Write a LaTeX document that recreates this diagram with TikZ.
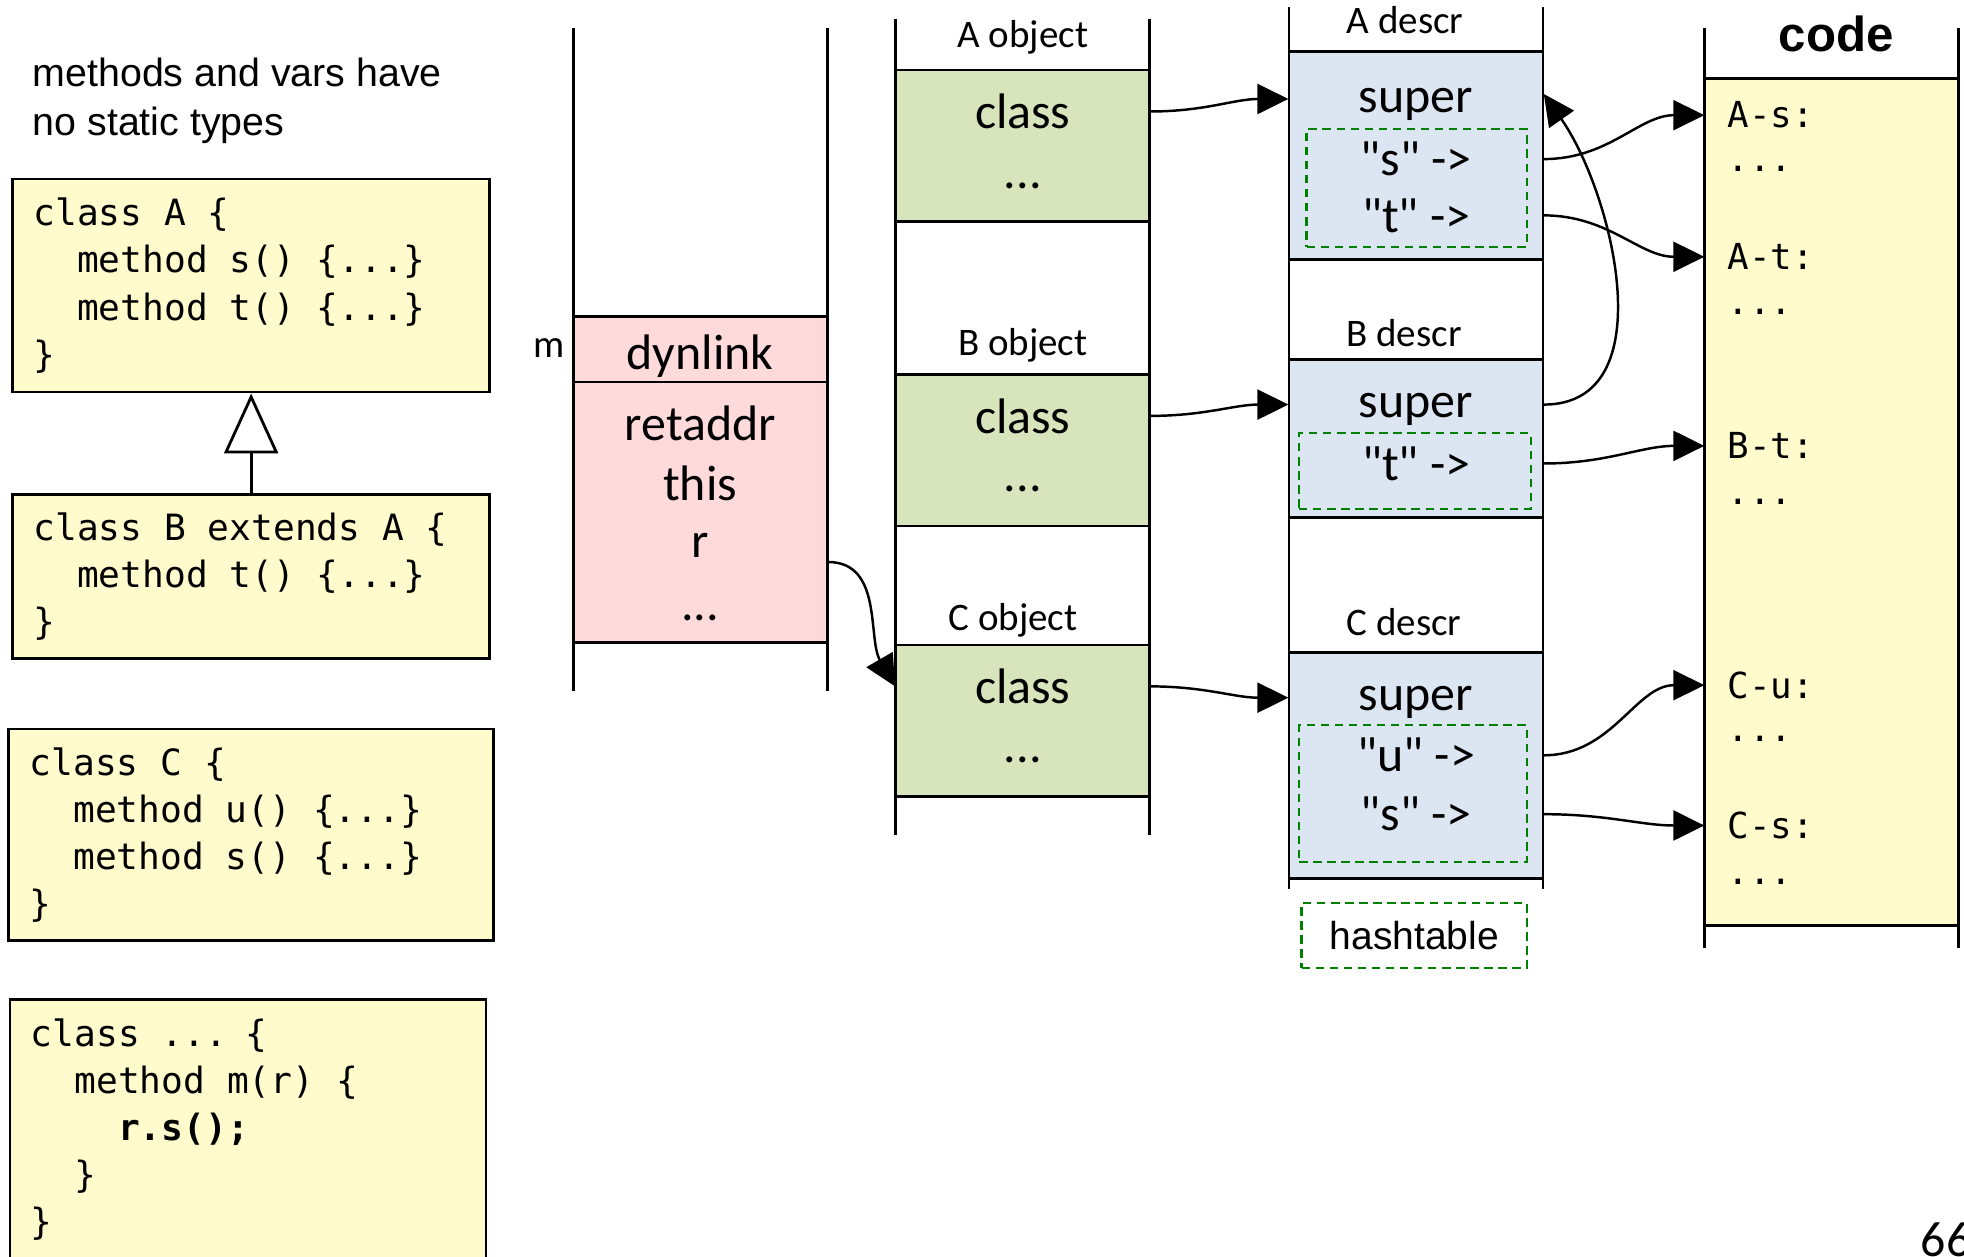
\documentclass[tikz,border=0pt]{standalone}
\usepackage{fontspec}
\setmainfont{Carlito}[Ligatures=TeXOff]
\setmonofont{DejaVu Sans Mono}
\newfontfamily\arialfont{Liberation Sans}
\usetikzlibrary{arrows.meta}
\definecolor{codeyellow}{RGB}{255,251,204}
\definecolor{objgreen}{RGB}{216,228,188}
\definecolor{descblue}{RGB}{220,230,242}
\definecolor{stackpink}{RGB}{255,218,218}
\definecolor{hashgreen}{RGB}{0,128,0}
\newcommand{\ind}{\hphantom{xx}}
\newcommand{\monosp}{\spaceskip=0.602em\relax}
\begin{document}
\begin{tikzpicture}[every node/.style={inner sep=0pt},
  box/.style={draw,line width=0.8pt,minimum width=2.54cm},
  fld/.style={minimum width=2.54cm,font=\fontsize{14.2}{17}\selectfont},
  lbl/.style={font=\fontsize{11.1}{13}\selectfont},
  hash/.style={draw=hashgreen,dash pattern=on 2.4pt off 1.6pt,line width=0.6pt},
  src/.style={draw,line width=0.8pt,fill=codeyellow,align=left,inner xsep=0.21cm,font=\ttfamily\fontsize{10.3}{13.4}\selectfont},
  cl/.style={anchor=west,inner xsep=0.225cm,font=\ttfamily\fontsize{10.2}{13.4}\selectfont},
  ptr/.style={-{Triangle[length=0.31cm,width=0.3cm]},line width=0.7pt},
  col/.style={line width=0.8pt}]
\useasboundingbox (0,0) rectangle (19.64,12.56);
\node[anchor=west,align=left,font=\arialfont\fontsize{11.2}{13.9}\selectfont] (title) at (0.32,11.55) {methods and vars have\\no static types};
\node[src,text width=4.353cm,minimum height=2.13cm] (clsA) at (2.5115,9.704) {\monosp class A \{\\\ind method s() \{...\}\\\ind method t() \{...\}\\\}};
\node[src,text width=4.353cm,minimum height=1.641cm] (clsB) at (2.5115,6.7915) {\monosp class B extends A \{\\\ind method t() \{...\}\\\}};
\node[src,text width=4.427cm,minimum height=2.117cm] (clsC) at (2.5115,4.2115) {\monosp class C \{\\\ind method u() \{...\}\\\ind method s() \{...\}\\\}};
\node[src,text width=4.34cm,minimum height=2.604cm] (clsM) at (2.48,1.262) {\monosp class ... \{\\\ind method m(r) \{\\\ind\ind\textbf{r.s();}\\\ind \}\\\}};
\draw[line width=0.8pt,-{Triangle[open,length=0.6cm,width=0.54cm]}] (clsB.north) -- (clsA.south);
\draw[col] (5.732,12.284) -- (5.732,5.646) (8.272,12.284) -- (8.272,5.646);
\draw[col] (8.9575,12.372) -- (8.9575,4.205) (11.4975,12.372) -- (11.4975,4.205);
\draw[col] (12.8905,12.485) -- (12.8905,3.667) (15.4305,12.485) -- (15.4305,3.667);
\draw[col] (17.043,12.284) -- (17.043,3.078) (19.583,12.284) -- (19.583,3.078);
\node[box,fill=stackpink,minimum height=0.651cm] (dyn) at (7.002,9.0655) {};
\node[box,fill=stackpink,minimum height=2.606cm] (frm) at (7.002,7.437) {};
\node[lbl] (mlbl) at (5.486,9.078) {m};
\node[fld] (dynl) at (7.002,9.0) {dynlink};
\node[fld] (ret) at (7.002,8.326) {retaddr};
\node[fld] (this) at (7.002,7.725) {this};
\node[fld] (r) at (7.002,7.11) {r};
\node[fld] (frmdots) at (7.002,6.377) {...};
\node[lbl] (aobjl) at (10.2275,12.184) {A object};
\node[box,fill=objgreen,minimum height=1.516cm] (aobj) at (10.2275,11.101) {};
\node[fld] (acls) at (10.2275,11.445) {class};
\node[fld] (adots) at (10.2275,10.699) {...};
\node[lbl] (bobjl) at (10.2275,9.103) {B object};
\node[box,fill=objgreen,minimum height=1.516cm] (bobj) at (10.2275,8.057) {};
\node[fld] (bcls) at (10.2275,8.401) {class};
\node[fld] (bdots) at (10.2275,7.667) {...};
\node[lbl] (cobjl) at (10.13,6.360) {C object};
\node[box,fill=objgreen,minimum height=1.516cm] (cobj) at (10.2275,5.351) {};
\node[fld] (ccls) at (10.2275,5.696) {class};
\node[fld] (cdots) at (10.2275,4.962) {...};
\node[lbl] (adescl) at (14.05,12.36) {A descr};
\node[box,fill=descblue,minimum height=2.079cm] (adesc) at (14.1605,11.0065) {};
\node[hash,minimum width=2.204cm,minimum height=1.178cm] (ahash) at (14.167,10.681) {};
\node[fld] (asup) at (14.1605,11.52) {super};
\node[fld] (as) at (14.1605,10.969) {"s" ->};
\node[fld] (at) at (14.1605,10.406) {"t" ->};
\node[lbl] (bdescl) at (14.04,9.228) {B descr};
\node[box,fill=descblue,minimum height=1.578cm] (bdesc) at (14.1605,8.176) {};
\node[hash,minimum width=2.317cm,minimum height=0.752cm] (bhash) at (14.148,7.85) {};
\node[fld] (bsup) at (14.1605,8.464) {super};
\node[fld] (bt) at (14.1605,7.925) {"t" ->};
\node[lbl] (cdescl) at (14.04,6.335) {C descr};
\node[box,fill=descblue,minimum height=2.255cm] (cdesc) at (14.1605,4.9065) {};
\node[hash,minimum width=2.279cm,minimum height=1.365cm] (chash) at (14.13,4.6245) {};
\node[fld] (csup) at (14.1605,5.533) {super};
\node[fld] (cu) at (14.1605,5.007) {"u" ->};
\node[fld] (cs) at (14.1605,4.418) {"s" ->};
\node[hash,minimum width=2.254cm,minimum height=0.652cm,font=\arialfont\fontsize{11.1}{13}\selectfont] (hashlbl) at (14.142,3.203) {hashtable};
\node[font=\arialfont\bfseries\fontsize{14}{17}\selectfont] (codel) at (18.363,12.222) {code};
\node[box,fill=codeyellow,minimum height=8.468cm] (codebox) at (18.313,7.537) {};
\node[cl] (cAs) at (17.043,11.408) {A-s:};
\node[cl] (cAsd) at (17.043,10.869) {...};
\node[cl] (cAt) at (17.043,9.992) {A-t:};
\node[cl] (cAtd) at (17.043,9.441) {...};
\node[cl] (cBt) at (17.043,8.101) {B-t:};
\node[cl] (cBtd) at (17.043,7.537) {...};
\node[cl] (cCu) at (17.043,5.708) {C-u:};
\node[cl] (cCud) at (17.043,5.170) {...};
\node[cl] (cCs) at (17.043,4.305) {C-s:};
\node[cl] (cCsd) at (17.043,3.742) {...};
\node[anchor=west,font=\fontsize{14.2}{17}\selectfont] (pageno) at (19.20,0.16) {66};
\draw[ptr] ([yshift=-0.17cm]r.east) to[out=0,in=120] (ccls.west);
\draw[ptr] (acls.east) to[out=0,in=180] ([yshift=0.05cm]asup.west);
\draw[ptr] (bcls.east) to[out=0,in=180] ([yshift=0.05cm]bsup.west);
\draw[ptr] (ccls.east) to[out=0,in=180] ([yshift=0.05cm]csup.west);
\draw[ptr] ([yshift=0.05cm]bsup.east) to[out=0,in=-55] ([yshift=0.1cm]asup.east);
\draw[ptr] (as.east) to[out=0,in=180] (cAs.west);
\draw[ptr] (at.east) to[out=0,in=180] (cAt.west);
\draw[ptr] (bt.east) to[out=0,in=180] (cBt.west);
\draw[ptr] (cu.east) to[out=0,in=180] (cCu.west);
\draw[ptr] (cs.east) to[out=0,in=180] (cCs.west);
\end{tikzpicture}
\end{document}
